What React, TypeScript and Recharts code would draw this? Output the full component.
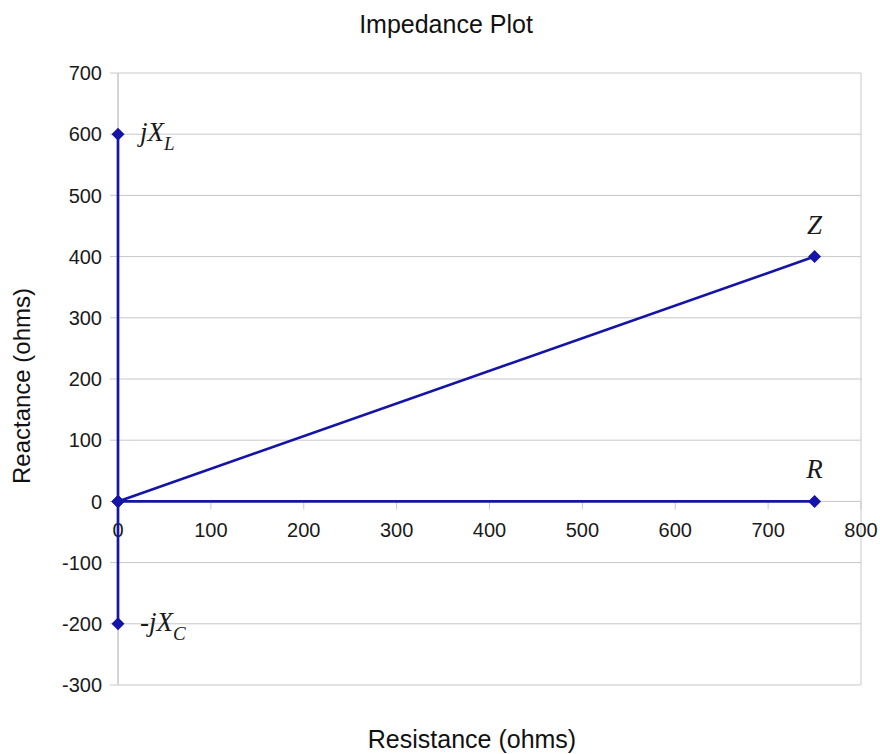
import React from 'react';
import { ScatterChart, Scatter, XAxis, YAxis, CartesianGrid, ReferenceDot } from 'recharts';

const reactancePoints = [
  { x: 0, y: 600 },
  { x: 0, y: 0 },
  { x: 0, y: -200 },
];
const impedancePoints = [
  { x: 0, y: 0 },
  { x: 750, y: 400 },
];
const resistancePoints = [
  { x: 0, y: 0 },
  { x: 750, y: 0 },
];
const pointLabels = [
  { x: 0, y: 600, main: 'jX', sub: 'L', side: 'right' },
  { x: 0, y: -200, main: '-jX', sub: 'C', side: 'right' },
  { x: 750, y: 400, main: 'Z', sub: '', side: 'top' },
  { x: 750, y: 0, main: 'R', sub: '', side: 'top' },
];
const xTicks = [0, 100, 200, 300, 400, 500, 600, 700, 800];
const yTicks = [-300, -200, -100, 0, 100, 200, 300, 400, 500, 600, 700];

const BLUE = '#1414a6';
const GRID = '#c8c8c8';
const SANS = '"Liberation Sans", Arial, sans-serif';
const SERIF = '"Liberation Serif", "Times New Roman", serif';

const Diamond = (props: any) => {
  const { cx, cy } = props;
  const r = 6.5;
  return <path d={`M${cx},${cy - r}L${cx + r},${cy}L${cx},${cy + r}L${cx - r},${cy}Z`} fill={BLUE} />;
};

// x axis sits on y = 0, so its ticks are drawn at that line
const XTickAtZero = (value: number) => (props: any) => {
  const { cx, cy } = props;
  return (
    <g>
      <line x1={cx} y1={cy} x2={cx} y2={cy + 8} stroke={GRID} />
      <text x={cx} y={cy + 36} textAnchor="middle" fontSize={20} fontFamily={SANS} fill="#1a1a1a">
        {value}
      </text>
    </g>
  );
};

const PointLabel = (item: (typeof pointLabels)[number]) => (props: any) => {
  const { cx, cy } = props;
  if (item.side === 'top') {
    return (
      <text x={cx} y={cy - 23} textAnchor="middle" fontSize={27} fontStyle="italic" fontFamily={SERIF} fill="#1a1a1a">
        {item.main}
      </text>
    );
  }
  return (
    <text x={cx + 22} y={cy + 7} fontSize={27} fontStyle="italic" fontFamily={SERIF} fill="#1a1a1a">
      {item.main}
      <tspan dy={9} fontSize={19}>{item.sub}</tspan>
    </text>
  );
};

export default function App() {
  return (
    <div style={{ position: 'relative', width: 880, height: 754, fontFamily: SANS, background: '#fff' }}>
      <style>{'body{margin:0}'}</style>
      <div style={{ position: 'absolute', left: 0, width: 892, top: 9, textAlign: 'center', fontSize: 25, color: '#111', lineHeight: '30px' }}>
        Impedance Plot
      </div>
      <div
        style={{
          position: 'absolute',
          left: 22,
          top: 386,
          transform: 'translate(-50%, -50%) rotate(-90deg)',
          whiteSpace: 'nowrap',
          fontSize: 24,
          color: '#111',
        }}
      >
        Reactance (ohms)
      </div>
      <div style={{ position: 'absolute', left: 0, width: 944, top: 724, textAlign: 'center', fontSize: 25, color: '#111', lineHeight: '30px' }}>
        Resistance (ohms)
      </div>
      <ScatterChart width={880} height={754} margin={{ top: 73, right: 19, bottom: 69, left: 48 }}>
        <CartesianGrid stroke={GRID} strokeWidth={1} />
        <XAxis
          type="number"
          dataKey="x"
          domain={[0, 800]}
          ticks={xTicks}
          tick={false}
          axisLine={false}
          tickLine={false}
          height={0}
        />
        <YAxis
          type="number"
          dataKey="y"
          domain={[-300, 700]}
          ticks={yTicks}
          width={70}
          tickSize={8}
          tickMargin={8}
          axisLine={{ stroke: GRID }}
          tickLine={{ stroke: GRID }}
          tick={{ fontSize: 20, fontFamily: SANS, fill: '#1a1a1a' }}
        />
        {xTicks.map((t) => (
          <ReferenceDot key={`xt${t}`} x={t} y={0} r={0} shape={XTickAtZero(t)} />
        ))}
        <Scatter data={reactancePoints} line={{ stroke: BLUE, strokeWidth: 2.7 }} shape={Diamond} isAnimationActive={false} />
        <Scatter data={impedancePoints} line={{ stroke: BLUE, strokeWidth: 2.7 }} shape={Diamond} isAnimationActive={false} />
        <Scatter data={resistancePoints} line={{ stroke: BLUE, strokeWidth: 2.7 }} shape={Diamond} isAnimationActive={false} />
        {pointLabels.map((p) => (
          <ReferenceDot key={p.main} x={p.x} y={p.y} r={0} shape={PointLabel(p)} />
        ))}
      </ScatterChart>
    </div>
  );
}
